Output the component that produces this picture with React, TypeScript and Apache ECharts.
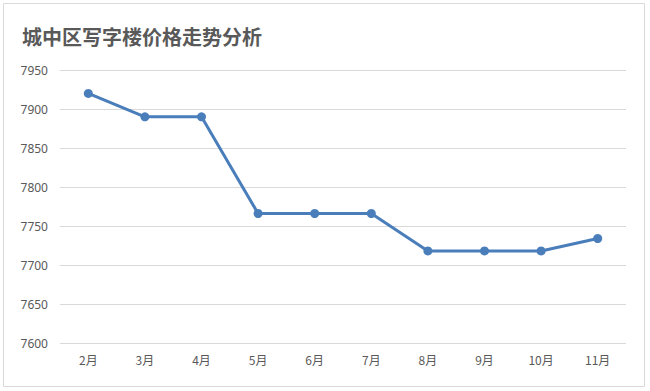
import React, { useEffect, useRef } from "react";
import * as echarts from "echarts";

const TITLE = "城中区写字楼价格走势分析";
const months = ["2月", "3月", "4月", "5月", "6月", "7月", "8月", "9月", "10月", "11月"];
const prices = [7920, 7890, 7890, 7766, 7766, 7766, 7718, 7718, 7718, 7734];
const yMin = 7600;
const yMax = 7950;
const yStep = 50;

export default function App() {
  const ref = useRef<HTMLDivElement>(null);
  useEffect(() => {
    document.body.style.margin = "0";
    if (!ref.current) return;
    const chart = echarts.init(ref.current, undefined, { renderer: "svg" });
    chart.setOption({
      animation: false,
      backgroundColor: "#ffffff",
      title: {
        text: TITLE,
        left: 17,
        top: 21,
        textStyle: {
          fontFamily: "Noto Sans CJK SC",
          fontSize: 20,
          fontWeight: "bold",
          color: "#595959",
        },
      },
      graphic: [
        {
          type: "rect",
          shape: { x: 3.5, y: 3.5, width: 641, height: 383 },
          style: { fill: "none", stroke: "#d9d9d9", lineWidth: 1 },
          silent: true,
        },
      ],
      grid: { left: 60, right: 24, top: 70, bottom: 48 },
      xAxis: {
        type: "category",
        data: months,
        boundaryGap: true,
        axisLine: { show: false },
        axisTick: { show: false },
        axisLabel: {
          color: "#595959",
          fontSize: 12,
          fontFamily: "Noto Sans CJK SC",
          margin: 10,
        },
      },
      yAxis: {
        type: "value",
        min: yMin,
        max: yMax,
        interval: yStep,
        axisLine: { show: false },
        axisTick: { show: false },
        axisLabel: {
          color: "#595959",
          fontSize: 12,
          fontFamily: "Noto Sans",
          margin: 12,
          formatter: (v: number) => String(v),
        },
        splitLine: { lineStyle: { color: "#d9d9d9", width: 1 } },
      },
      series: [
        {
          type: "line",
          data: prices,
          symbol: "circle",
          symbolSize: 9,
          lineStyle: { color: "#4a7ebb", width: 3 },
          itemStyle: { color: "#4a7ebb" },
        },
      ],
    });
    return () => chart.dispose();
  }, []);
  return <div ref={ref} style={{ width: 650, height: 391 }} />;
}
